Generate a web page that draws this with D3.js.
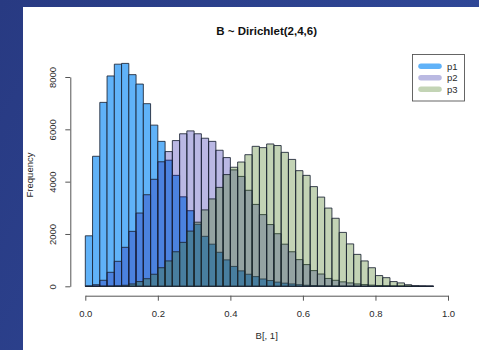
<!DOCTYPE html>
<html>
<head>
<meta charset="utf-8">
<script src="https://cdn.jsdelivr.net/npm/d3@7"></script>
<style>
  body { margin: 0; background: #2b3f88; }
  svg { display: block; font-family: 'Liberation Sans', Arial, sans-serif; }
</style>
</head>
<body>
<div id="chart"></div>
<script>
// histogram counts per 0.02 bin, bins run 0.00 .. 0.96
const p1Counts = [1930, 4970, 7030, 8040, 8490, 8520, 8090, 7730, 6980, 6160,
  5540, 4820, 4240, 3420, 2890, 2370, 1910, 1610, 1300, 1010,
  760, 590, 460, 370, 280, 220, 160, 120, 90, 60,
  40, 30, 20, 12, 8, 5, 3, 2, 1, 1,
  0, 0, 0, 0, 0, 0, 0, 0];
const p2Counts = [5, 60, 230, 535, 955, 1490, 2100, 2800, 3500, 4090,
  4760, 5150, 5570, 5830, 5940, 5830, 5660, 5540, 5200, 4920,
  4450, 4200, 3670, 3130, 2740, 2360, 2010, 1610, 1320, 1020,
  830, 600, 470, 300, 230, 170, 130, 90, 65, 45,
  30, 20, 12, 8, 4, 2, 1, 0];
const p3Counts = [0, 0, 2, 5, 15, 40, 90, 180, 290, 460,
  710, 970, 1320, 1680, 2110, 2450, 2920, 3340, 3780, 4270,
  4550, 4750, 5030, 5350, 5300, 5440, 5380, 5120, 4850, 4420,
  4240, 3810, 3410, 2990, 2600, 2060, 1620, 1220, 970, 710,
  410, 330, 180, 130, 60, 20, 10, 2];
const binWidth = 0.02;
const seriesNames = ['p1', 'p2', 'p3'];
const xTicks = [0, 0.2, 0.4, 0.6, 0.8, 1.0];
const yTicks = [0, 2000, 4000, 6000, 8000];
const title = 'B ~ Dirichlet(2,4,6)';
const xLabel = 'B[, 1]';
const yLabel = 'Frequency';

const width = 479, height = 350;
const fills = ['rgb(96,178,248)', 'rgba(25,20,165,0.3)', 'rgba(67,118,24,0.32)'];
const swatches = ['#60b2f8', '#bab9e2', '#c3d4b5'];

const svg = d3.select('#chart')
  .append('svg')
  .attr('width', width)
  .attr('height', height);

// slide background
const grad = svg.append('defs').append('linearGradient')
  .attr('id', 'bg')
  .attr('x1', 0).attr('y1', 0).attr('x2', 1).attr('y2', 0.4);
grad.append('stop').attr('offset', 0).attr('stop-color', '#283a82');
grad.append('stop').attr('offset', 1).attr('stop-color', '#30499a');
svg.append('rect').attr('width', width).attr('height', height).attr('fill', 'url(#bg)');
svg.append('rect')
  .attr('x', 23).attr('y', 7)
  .attr('width', width - 23).attr('height', height - 7)
  .attr('fill', '#fff');

const x = d3.scaleLinear().domain([0, 1]).range([85.3, 448]);
const y = d3.scaleLinear().domain([0, 8000]).range([286.3, 77]);

const series = [p1Counts, p2Counts, p3Counts].map((counts, k) => ({
  key: seriesNames[k],
  bins: counts.map((c, i) => ({ x0: i * binWidth, x1: (i + 1) * binWidth, count: c }))
}));

// bars drawn as paths so empty bins still show as a line on the baseline
svg.selectAll('g.hist')
  .data(series)
  .join('g')
  .attr('class', 'hist')
  .attr('fill', (d, k) => fills[k])
  .attr('stroke', '#1a2233')
  .attr('stroke-width', 0.85)
  .selectAll('path')
  .data(d => d.bins)
  .join('path')
  .attr('d', b => {
    const p = d3.path();
    p.rect(x(b.x0), y(b.count), x(b.x1) - x(b.x0), y(0) - y(b.count));
    return p.toString();
  });

const axisColor = '#555';
const textColor = '#2a2a2a';

const xAxis = svg.append('g')
  .attr('transform', 'translate(0,295.7)')
  .call(d3.axisBottom(x).tickValues(xTicks).tickFormat(d3.format('.1f')).tickSize(5).tickSizeOuter(0));
xAxis.selectAll('text')
  .attr('y', 21).attr('dy', 0)
  .attr('font-size', 9.5).attr('fill', textColor);

const yAxis = svg.append('g')
  .attr('transform', 'translate(70.3,0)')
  .call(d3.axisLeft(y).tickValues(yTicks).tickFormat(d3.format('d')).tickSize(5).tickSizeOuter(0));
yAxis.selectAll('text')
  .attr('transform', 'rotate(-90)')
  .attr('x', 0).attr('y', -14.3).attr('dy', 0)
  .attr('text-anchor', 'middle')
  .attr('font-size', 9.5).attr('fill', textColor);

[xAxis, yAxis].forEach(a => {
  a.select('.domain').attr('stroke', axisColor);
  a.selectAll('line').attr('stroke', axisColor);
  a.attr('font-family', null);
});

svg.append('text')
  .attr('x', 266.7).attr('y', 35)
  .attr('text-anchor', 'middle')
  .attr('font-weight', 'bold').attr('font-size', 11.5)
  .attr('fill', '#111')
  .text(title);

svg.append('text')
  .attr('x', 266.7).attr('y', 339)
  .attr('text-anchor', 'middle')
  .attr('font-size', 9.5).attr('fill', textColor)
  .text(xLabel);

svg.append('text')
  .attr('transform', 'translate(33,175) rotate(-90)')
  .attr('text-anchor', 'middle')
  .attr('font-size', 9.5).attr('fill', textColor)
  .text(yLabel);

// legend
const legend = svg.append('g');
legend.append('rect')
  .attr('x', 412.5).attr('y', 54.5)
  .attr('width', 52).attr('height', 46.5)
  .attr('fill', '#fff').attr('stroke', '#555').attr('stroke-width', 0.9);
const rows = legend.selectAll('g.row')
  .data(seriesNames)
  .join('g')
  .attr('class', 'row')
  .attr('transform', (d, i) => `translate(0,${66.3 + i * 11.5})`);
rows.append('line')
  .attr('x1', 421).attr('x2', 439)
  .attr('stroke', (d, i) => swatches[i])
  .attr('stroke-width', 5.5)
  .attr('stroke-linecap', 'round');
rows.append('text')
  .attr('x', 447).attr('y', 3.4)
  .attr('font-size', 9.5).attr('fill', textColor)
  .text(d => d);
</script>
</body>
</html>
